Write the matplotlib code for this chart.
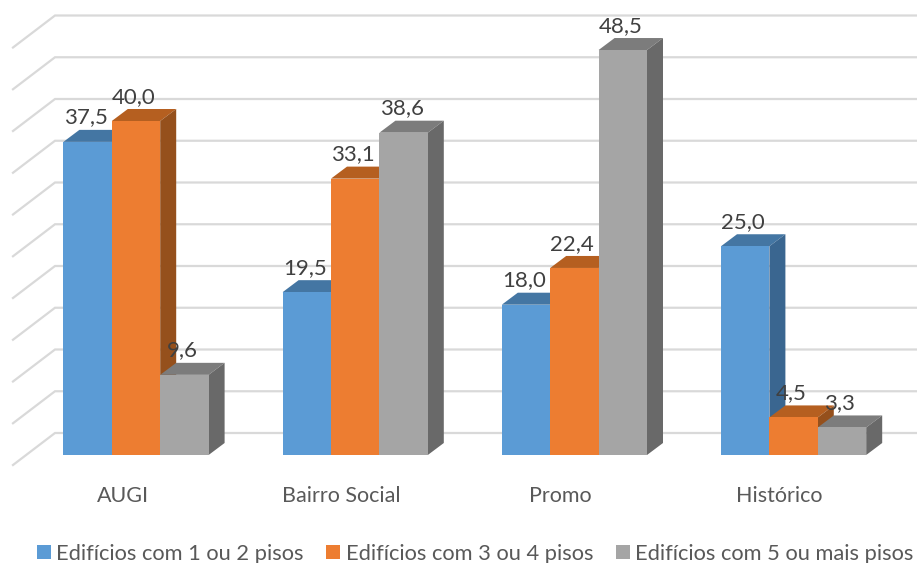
import numpy as np
import matplotlib
matplotlib.use('Agg')
import matplotlib.pyplot as plt
from matplotlib.patches import Polygon

categories = ['AUGI', 'Bairro Social', 'Promo', 'Histórico']
series_names = ['Edifícios com 1 ou 2 pisos', 'Edifícios com 3 ou 4 pisos', 'Edifícios com 5 ou mais pisos']
pisos_1_2 = [37.5, 19.5, 18.0, 25.0]
pisos_3_4 = [40.0, 33.1, 22.4, 4.5]
pisos_5 = [9.6, 38.6, 48.5, 3.3]
wall_ticks = [0, 5, 10, 15, 20, 25, 30, 35, 40, 45, 50]

front_cols = ['#5B9BD5', '#ED7D31', '#A5A5A5']
top_cols = ['#4476A3', '#B55F20', '#7C7C7C']
side_cols = ['#3A6690', '#95501C', '#696969']

W, H = 917, 563
PX_X = 219.2   # pixels per category
PX_Y = 8.35    # pixels per unit
BASE = 455     # pixel row of value 0
BOTTOM = 466   # pixel row of axes bottom
X0 = 136.0     # pixel column of first group centre

plt.rcParams['font.family'] = ['Lato', 'DejaVu Sans']
fig = plt.figure(figsize=(W / 100, H / 100), dpi=100)
ax = fig.add_axes([0, 1 - BOTTOM / H, 1, BOTTOM / H])
ax.set_xlim(-X0 / PX_X, (W - X0) / PX_X)
ax.set_ylim((BASE - BOTTOM) / PX_Y, BASE / PX_Y)

# pixel sizes turned into data units
bw = 48.4 / PX_X
dx = 16 / PX_X
dy = 12 / PX_Y
wall_dx = 42 / PX_X
wall_dy = 32 / PX_Y
wall_left = (13 - X0) / PX_X
wall_lift = 22 / PX_Y

for v in wall_ticks:
    y = v + wall_lift
    ax.plot([wall_left, wall_left + wall_dx, ax.get_xlim()[1]], [y - wall_dy, y, y],
            color='#D9D9D9', lw=1.6, zorder=1, clip_on=False, solid_joinstyle='miter')

x = np.arange(len(categories))
handles = []
for i, vals in enumerate([pisos_1_2, pisos_3_4, pisos_5]):
    xs = x + (i - 1) * bw
    z = 3 + i
    bars = ax.bar(xs, vals, width=bw, color=front_cols[i], zorder=z + 0.2, label=series_names[i])
    handles.append(bars)
    for xc, v in zip(xs, vals):
        l, r = xc - bw / 2, xc + bw / 2
        ax.add_patch(Polygon([(l, v), (r, v), (r + dx, v + dy), (l + dx, v + dy)],
                             facecolor=top_cols[i], edgecolor='none', zorder=z))
        ax.add_patch(Polygon([(r, 0), (r + dx, dy), (r + dx, v + dy), (r, v)],
                             facecolor=side_cols[i], edgecolor='none', zorder=z))

for i, vals in enumerate([pisos_1_2, pisos_3_4, pisos_5]):
    for xc, v in zip(x + (i - 1) * bw, vals):
        ax.annotate(f'{v:.1f}'.replace('.', ','), (xc, v), xytext=(-1.5, 17.5), textcoords='offset points',
                    ha='center', va='center', fontsize=16, color='#404040', zorder=10, annotation_clip=False)

ax.set_xticks(x * 218.6 / PX_X - 13 / PX_X)
ax.set_xticklabels(categories, fontsize=15.5, color='#595959')
ax.set_yticks([])
ax.tick_params(axis='x', length=0, pad=14.7)
for s in ax.spines.values():
    s.set_visible(False)
ax.patch.set_alpha(0)

fig.legend(handles=handles, labels=series_names, loc='lower left', bbox_to_anchor=(34.5 / W, -3 / H),
           bbox_transform=fig.transFigure, ncol=3, frameon=False, fontsize=15.75, labelcolor='#595959',
           handlelength=0.64, handleheight=0.64, handletextpad=0.24, columnspacing=1.05,
           borderaxespad=0, borderpad=0.1)

fig.savefig('out.png', dpi=100)
